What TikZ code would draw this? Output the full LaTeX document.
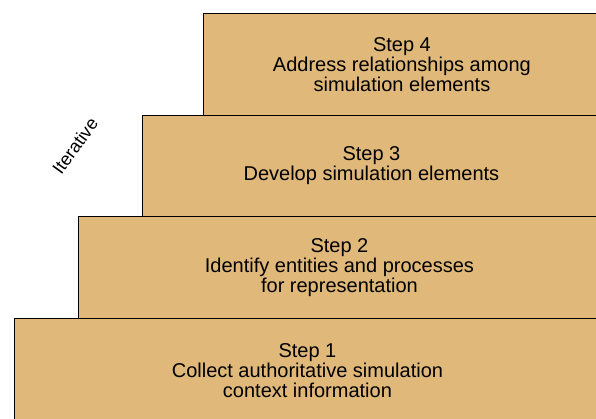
\documentclass[tikz,border=0pt]{standalone}
\usepackage{fontspec}
\setmainfont{Liberation Sans}
\definecolor{tan}{HTML}{E0B87A}
\begin{document}
\begin{tikzpicture}[x=1pt,y=1pt,
  stepbox/.style={draw=black, line width=0.9pt, fill=tan, anchor=north west,
    align=center, inner sep=0pt, font=\fontsize{20}{20}\selectfont},
  itlabel/.style={font=\fontsize{18}{18}\selectfont, rotate=54}]
\useasboundingbox (0,0) rectangle (596,-418);
\node[stepbox, minimum width=586pt, minimum height=104pt] (s1) at (14,-318)
  {Step 1\\Collect authoritative simulation\\context information};
\node[stepbox, minimum width=522pt, minimum height=102pt] (s2) at (78,-216)
  {Step 2\\Identify entities and processes\\for representation};
\node[stepbox, minimum width=458pt, minimum height=101pt] (s3) at (142,-115)
  {Step 3\\Develop simulation elements};
\node[stepbox, minimum width=397pt, minimum height=102pt] (s4) at (203,-13)
  {Step 4\\Address relationships among\\simulation elements};
\node[itlabel] (it) at (75,-146) {Iterative};
\end{tikzpicture}
\end{document}
